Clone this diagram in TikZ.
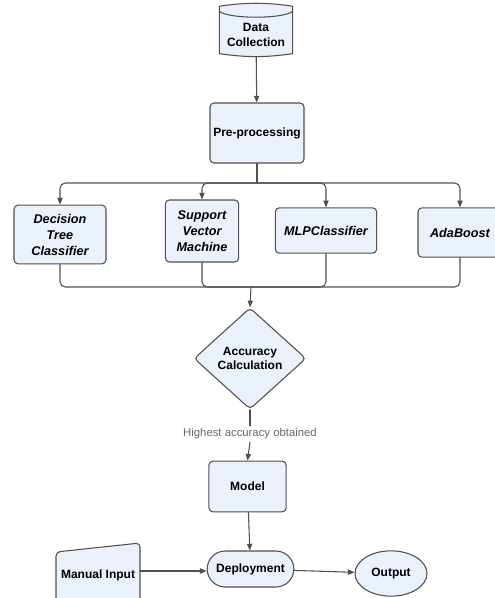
\documentclass[tikz,border=0pt]{standalone}
\usepackage{fontspec}
\setmainfont{Liberation Sans}
\usetikzlibrary{arrows.meta,shapes.geometric,positioning}
\definecolor{boxfill}{HTML}{EAF1FB}
\definecolor{boxline}{HTML}{505050}
\definecolor{notegray}{HTML}{666666}
\def\SplitY{183}
\def\JoinY{287}

\begin{document}
\begin{tikzpicture}[
  x=0.75pt, y=-0.75pt,
  >={Triangle[length=5pt,width=4pt]}, line cap=round, line join=round,
  box/.style ={draw=boxline, fill=boxfill, rounded corners=3pt, line width=0.8pt,
               align=center, inner sep=2pt, font=\bfseries\fontsize{9}{11}\selectfont},
  algo/.style={box, font=\bfseries\itshape\fontsize{9.5}{12}\selectfont},
  link/.style={draw=boxline, line width=0.8pt, rounded corners=4pt},
  note/.style={text=notegray, inner sep=2pt, font=\fontsize{8.5}{10}\selectfont}
]
\useasboundingbox (0,0) rectangle (494,598);

% --- Input and preprocessing -------------------------------------------
\node[box, shape=cylinder, shape border rotate=90, aspect=0.22,
      minimum width=55pt, minimum height=40pt] (data) at (256,35)
  {Data\\Collection};
\node[box, minimum width=70.5pt, minimum height=45pt] (pre) at (257,133)
  {Pre-processing};

% --- Classifiers --------------------------------------------------------
\node[algo, minimum width=69pt, minimum height=44pt] (dtc) at (60,234.5)
  {Decision\\Tree\\Classifier};
\node[algo, minimum width=55pt, minimum height=46.5pt] (svm) at (202,231)
  {Support\\Vector\\Machine};
\node[algo, minimum width=76pt, minimum height=34pt] (mlp) at (326,230.5)
  {MLPClassifier};
\node[algo, minimum width=63pt, minimum height=37pt] (ada) at (460,232.5)
  {AdaBoost};

\coordinate (split) at (257,\SplitY);
\coordinate (join) at (251,\JoinY);

% --- Selection ----------------------------------------------------------
\node[box, shape=diamond, inner sep=0pt, minimum width=84pt, minimum height=76pt]
  (acc) at (250,358.5) {Accuracy\\Calculation};
\node[note] (best) at (250,434) {Highest accuracy obtained};
\node[box, minimum width=58pt, minimum height=38pt] (model) at (247.5,486.5) {Model};

% --- Deployment ---------------------------------------------------------
\node[box, rounded corners=13.5pt, minimum width=65pt, minimum height=27pt]
  (deploy) at (250.5,569) {Deployment};
\node[box, shape=ellipse, minimum width=54pt, minimum height=34pt]
  (out) at (391,573.5) {Output};
\draw[draw=boxline, fill=boxfill, line width=0.8pt, rounded corners=3pt]
  (56,620) -- (56,552) -- (140,543) -- (140,620);
\node[font=\bfseries\fontsize{9}{11}\selectfont] (manual) at (98,575) {Manual Input};
\coordinate (manualR) at (140,571);

% --- Connectors ---------------------------------------------------------
\draw[link,->] (data) -- (pre);
\draw[link] (pre.south) -- (split);
\foreach \n in {dtc,svm,mlp,ada}
  \draw[link,->] (split) -| (\n.north);
\foreach \n in {dtc,svm,mlp,ada}
  \draw[link] (\n.south) |- (join);
\draw[link,->] (join) -- (acc.north);
\draw[link] (acc.south) -- (best.north);
\draw[link,->] (best.south) -- (model.north);
\draw[link,->] (model) -- (deploy);
\draw[link,->] (manualR) -- (manualR -| deploy.west);
\draw[link,->] (deploy) -- (out);

\end{tikzpicture}
\end{document}
